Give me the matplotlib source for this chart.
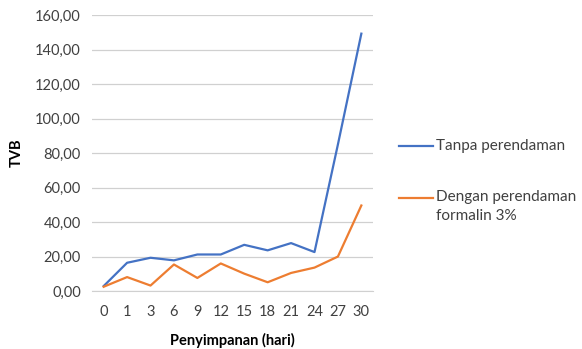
import matplotlib
matplotlib.use('Agg')
import matplotlib.pyplot as plt
from matplotlib.lines import Line2D
import numpy as np

matplotlib.rcParams['font.family'] = ['Lato', 'DejaVu Sans']

# storage days and TVB values for both treatments
days = ['0', '1', '3', '6', '9', '12', '15', '18', '21', '24', '27', '30']
tanpa = [2.9, 16.4, 19.3, 17.8, 21.2, 21.2, 26.8, 23.6, 27.8, 22.6, 85.0, 149.2]
dengan = [2.5, 8.1, 3.2, 15.4, 7.6, 16.0, 10.1, 5.1, 10.5, 13.6, 20.0, 49.6]
labels = ['Tanpa perendaman', 'Dengan perendaman\nformalin 3%']
colors = ['#4472C4', '#ED7D31']
yticks = np.arange(0, 161, 20)

fig = plt.figure(figsize=(5.82, 3.49), dpi=100)
ax = fig.add_axes([0.158, 0.166, 0.483, 0.791])

x = np.arange(len(days))
for series, c, lab in zip([tanpa, dengan], colors, labels):
    ax.plot(x, series, color=c, lw=1.6, label=lab)

ax.set_xlim(-0.5, len(days) - 0.5)
ax.set_ylim(0, 160)
ax.set_xticks(x)
ax.set_xticklabels(days)
ax.set_yticks(yticks)
ax.set_yticklabels(['{:.2f}'.format(v).replace('.', ',') for v in yticks])
ax.tick_params(length=0, labelsize=10.5, colors='#404040', pad=8)
ax.tick_params(axis='x', pad=10)
ax.grid(axis='y', color='#d0d0d0', lw=0.9)
ax.set_axisbelow(True)
for s in ['top', 'right', 'left']:
    ax.spines[s].set_visible(False)
ax.spines['bottom'].set_color('#d0d0d0')

ax.set_xlabel('Penyimpanan (hari)', fontsize=10.5, fontweight='bold', labelpad=10)
ax.set_ylabel('TVB', fontsize=10.5, fontweight='bold', labelpad=8)

# legend on the right, handle aligned with the first line of each label
W, H = 582, 349
for i, (c, lab) in enumerate(zip(colors, labels)):
    yl = 1 - (146 + 52 * i) / H
    fig.add_artist(Line2D([399 / W, 433 / W], [yl, yl], color=c, lw=1.6,
                          transform=fig.transFigure))
    fig.text(436 / W, yl + 7.5 / H, lab, fontsize=11, color='#404040',
             va='top', ha='left', linespacing=1.4)

fig.savefig('out.png', dpi=100)
